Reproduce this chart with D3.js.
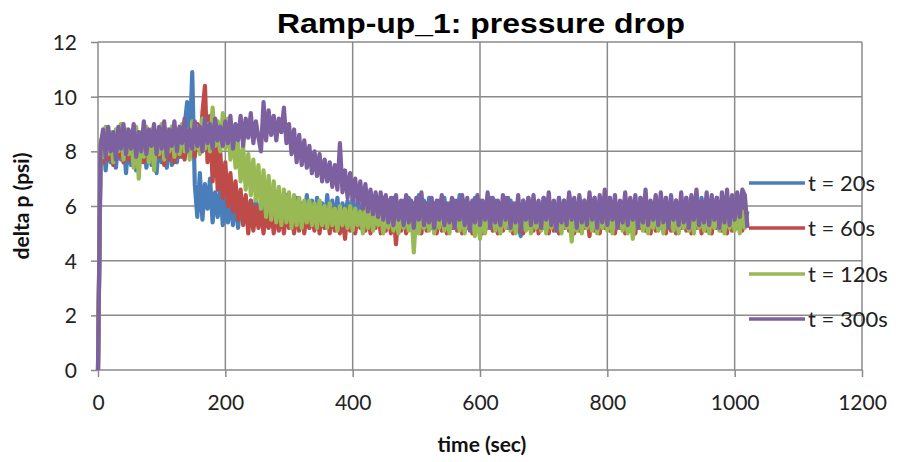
<!DOCTYPE html>
<html>
<head>
<meta charset="utf-8">
<script src="https://cdn.jsdelivr.net/npm/d3@7"></script>
<style>
  body { margin: 0; background: #fff; }
  .tick text { font-family: Lato, "Open Sans", sans-serif; font-size: 21px; fill: #222; }
  .axis-title { font-family: Lato, "Open Sans", sans-serif; font-weight: bold; font-size: 21px; fill: #111; }
  .chart-title { font-family: "Liberation Sans", Arial, sans-serif; font-weight: bold; font-size: 28px; fill: #000; }
  .legend text { font-family: Lato, "Open Sans", sans-serif; font-size: 22px; fill: #222; }
</style>
</head>
<body>
<div id="chart"></div>
<script>
(function () {

  // Sampling of the series (seconds between readings)
  const timeStep = 4

  const seriesNames = ["t = 20s", "t = 60s", "t = 120s", "t = 300s"]
  const seriesColors = ["#4a7ebb", "#be4b48", "#98b954", "#7d60a0"]

  const xTicks = [0, 200, 400, 600, 800, 1000, 1200]
  const yTicks = [0, 2, 4, 6, 8, 10, 12]

  // Readings, one every 4 s from 0 to 1020 s (256 values each), 40 s per row
  const dp20 = [
    0, 7.5, 8.6, 7.3, 8.4, 7.6, 8.5, 7.4, 8.3, 7.7,
    8.6, 7.2, 8.4, 7.5, 8.5, 7.3, 8.2, 7.6, 8.6, 7.4,
    8.3, 7.5, 8.5, 7.2, 8.4, 7.6, 8.3, 7.4, 8.6, 7.5,
    8.4, 7.6, 8.7, 7.8, 8.9, 9.8, 8.2, 10.9, 6.8, 5.6,
    7.2, 5.5, 6.8, 5.9, 7.0, 5.4, 6.5, 5.6, 6.7, 5.3,
    6.3, 5.4, 6.2, 5.3, 6.4, 5.2, 6.1, 5.5, 6.3, 5.2,
    6.2, 5.3, 6.3, 5.4, 6.1, 5.2, 6.4, 5.3, 6.2, 5.5,
    6.3, 5.2, 6.1, 5.4, 6.4, 5.3, 6.2, 5.2, 6.3, 5.5,
    6.1, 5.3, 6.4, 5.2, 6.2, 5.4, 6.3, 5.3, 6.1, 5.2,
    6.4, 5.4, 6.2, 5.3, 6.3, 5.2, 6.1, 5.5, 6.2, 5.3,
    6.3, 5.2, 6.2, 5.4, 6.1, 5.3, 6.4, 5.2, 6.2, 5.4,
    6.1, 5.3, 6.3, 5.2, 6.2, 5.5, 6.3, 5.3, 6.1, 5.2,
    6.2, 5.4, 6.3, 5.3, 6.1, 5.2, 6.4, 5.4, 6.2, 5.3,
    6.3, 5.2, 6.1, 5.4, 6.2, 5.3, 6.3, 5.2, 6.1, 5.4,
    6.2, 5.3, 6.4, 5.2, 6.2, 5.4, 6.1, 5.3, 6.3, 5.2,
    6.2, 5.4, 6.1, 5.3, 6.3, 5.2, 6.2, 5.5, 6.1, 5.3,
    6.3, 5.2, 6.2, 5.4, 6.1, 5.3, 4.9, 6.2, 5.4, 6.3,
    5.3, 6.2, 5.2, 6.1, 5.4, 6.3, 5.3, 6.2, 5.2, 6.1,
    5.4, 6.3, 5.2, 6.2, 5.3, 6.4, 5.4, 6.1, 5.2, 6.3,
    5.3, 6.2, 5.4, 6.1, 5.2, 6.3, 5.3, 6.2, 5.4, 6.1,
    5.2, 6.3, 5.3, 6.2, 5.4, 6.1, 5.2, 6.3, 5.3, 6.2,
    5.4, 6.1, 5.2, 6.3, 5.3, 6.2, 5.4, 6.1, 5.2, 6.3,
    5.3, 6.2, 5.4, 6.3, 5.2, 6.1, 5.3, 6.2, 5.4, 6.1,
    5.2, 6.3, 5.3, 6.2, 5.4, 6.1, 5.2, 6.3, 5.3, 6.2,
    5.4, 6.1, 5.2, 6.3, 5.3, 6.2, 5.4, 6.1, 5.2, 6.3,
    5.3, 6.2, 5.4, 6.1, 5.3, 5.8
  ]

  const dp60 = [
    0, 8.0, 7.6, 8.5, 7.7, 8.4, 7.5, 8.6, 7.8, 8.3,
    7.6, 8.5, 7.7, 8.4, 7.5, 8.6, 7.8, 8.3, 7.6, 8.5,
    7.7, 8.4, 7.6, 8.6, 7.8, 8.3, 7.5, 8.5, 7.7, 8.4,
    7.6, 8.6, 7.8, 8.5, 7.7, 8.7, 7.9, 8.8, 7.8, 9.0,
    8.1, 9.4, 10.4, 7.6, 9.3, 6.9, 8.6, 6.6, 8.0, 6.3,
    7.6, 6.0, 7.2, 5.8, 6.9, 5.5, 6.6, 5.3, 6.4, 5.0,
    6.2, 5.1, 6.0, 5.2, 5.9, 5.0, 5.8, 5.2, 5.9, 5.0,
    5.9, 5.1, 5.8, 5.0, 5.9, 5.2, 5.7, 5.0, 5.8, 5.1,
    5.9, 5.0, 5.8, 5.2, 5.7, 5.1, 5.9, 5.0, 5.8, 5.2,
    5.7, 5.0, 5.9, 5.1, 5.8, 5.0, 5.7, 4.8, 5.9, 5.1,
    5.8, 5.0, 5.7, 5.2, 5.9, 5.1, 5.8, 5.0, 5.7, 5.2,
    5.9, 5.0, 5.8, 5.1, 5.7, 5.0, 5.9, 4.6, 5.8, 5.1,
    5.7, 5.0, 5.9, 5.2, 5.8, 5.1, 5.7, 5.0, 5.9, 5.1,
    5.8, 5.2, 5.7, 5.0, 5.9, 5.1, 5.8, 5.0, 5.7, 5.2,
    5.9, 5.1, 5.8, 5.0, 5.7, 5.2, 5.9, 5.0, 5.8, 5.1,
    5.7, 5.0, 5.9, 5.2, 5.8, 5.1, 5.7, 5.0, 5.9, 5.1,
    5.8, 5.2, 5.7, 5.0, 5.9, 5.1, 5.8, 5.0, 5.7, 5.2,
    5.9, 5.1, 5.8, 5.0, 5.7, 5.2, 5.9, 5.0, 5.8, 5.1,
    5.7, 5.0, 5.9, 5.2, 5.8, 5.1, 5.7, 5.0, 5.9, 5.1,
    5.8, 5.2, 5.7, 4.9, 5.9, 5.1, 5.8, 5.0, 5.7, 5.2,
    5.9, 5.1, 5.8, 5.0, 5.7, 5.2, 5.9, 5.0, 5.8, 5.1,
    5.7, 5.0, 5.9, 5.2, 5.8, 5.1, 5.7, 5.0, 5.9, 5.1,
    5.8, 5.2, 5.7, 5.0, 5.9, 5.1, 5.8, 5.0, 5.7, 5.2,
    5.9, 5.1, 5.8, 5.0, 5.7, 5.2, 5.9, 5.0, 5.8, 5.1,
    5.7, 5.0, 5.9, 5.2, 5.8, 5.1, 5.7, 5.0, 5.9, 5.1,
    5.8, 5.2, 5.7, 5.1, 5.9, 5.3
  ]

  const dp120 = [
    0, 8.4, 7.8, 8.9, 7.9, 8.7, 7.6, 8.8, 8.0, 9.0,
    7.7, 8.8, 7.9, 8.6, 7.4, 8.9, 7.0, 8.7, 7.8, 8.9,
    7.6, 8.8, 7.3, 8.7, 7.9, 9.0, 7.7, 8.8, 8.0, 8.9,
    7.8, 8.7, 7.9, 9.0, 8.0, 8.8, 7.7, 9.1, 8.1, 8.9,
    7.9, 9.2, 8.1, 9.0, 8.0, 9.6, 8.2, 9.1, 8.0, 9.4,
    8.1, 9.2, 7.7, 8.8, 7.4, 8.3, 6.9, 8.2, 6.6, 7.9,
    6.4, 7.7, 6.2, 7.5, 5.9, 7.3, 5.6, 7.1, 5.5, 6.9,
    5.4, 6.7, 5.3, 6.6, 5.4, 6.5, 5.2, 6.4, 5.3, 6.3,
    5.2, 6.2, 5.4, 6.2, 5.3, 6.1, 5.2, 6.2, 5.3, 6.0,
    5.2, 6.1, 5.3, 5.9, 5.1, 6.0, 5.3, 5.9, 5.2, 6.0,
    5.1, 5.9, 5.3, 5.8, 5.0, 6.0, 5.2, 5.9, 5.1, 5.8,
    5.3, 5.9, 5.0, 5.8, 5.2, 6.0, 5.1, 5.8, 5.0, 5.9,
    5.2, 5.8, 5.1, 5.9, 4.3, 5.8, 5.0, 5.9, 5.2, 5.8,
    5.1, 5.9, 5.0, 5.8, 5.2, 6.0, 5.1, 5.8, 5.0, 5.9,
    5.2, 5.8, 5.1, 5.9, 5.0, 5.8, 5.2, 6.0, 4.9, 5.8,
    4.8, 5.9, 5.0, 5.8, 5.2, 5.9, 5.1, 5.8, 5.0, 6.0,
    5.2, 5.8, 5.1, 5.9, 5.0, 5.8, 5.2, 5.9, 5.1, 5.8,
    5.0, 5.9, 5.2, 5.8, 5.1, 6.0, 5.0, 5.8, 5.2, 5.9,
    5.1, 5.8, 5.0, 5.9, 5.2, 5.8, 4.7, 5.9, 5.1, 5.8,
    5.0, 5.9, 5.2, 5.8, 5.1, 6.0, 5.0, 5.8, 5.2, 5.9,
    5.1, 5.8, 5.0, 5.9, 5.2, 5.8, 5.1, 5.9, 5.0, 5.8,
    4.8, 5.9, 5.2, 5.8, 5.1, 6.0, 5.0, 5.8, 5.2, 5.9,
    5.1, 5.8, 5.0, 5.9, 5.2, 5.8, 5.1, 5.9, 5.0, 5.8,
    5.2, 5.9, 5.1, 5.8, 5.0, 6.0, 5.2, 5.8, 5.1, 5.9,
    5.0, 5.8, 5.2, 5.9, 5.1, 5.8, 5.0, 5.9, 5.2, 5.8,
    5.1, 5.9, 5.0, 5.8, 5.2, 5.5
  ]

  const dp300 = [
    0, 8.2, 8.8, 7.8, 8.9, 8.0, 8.7, 7.7, 8.9, 8.1,
    9.0, 7.9, 8.8, 8.1, 9.0, 7.8, 8.7, 8.0, 9.1, 7.9,
    8.8, 8.2, 9.0, 7.9, 8.9, 8.1, 9.1, 7.8, 8.8, 8.2,
    9.1, 8.0, 8.9, 8.3, 9.2, 8.0, 8.8, 8.1, 9.1, 8.2,
    8.9, 8.0, 9.2, 8.3, 9.0, 8.1, 9.2, 8.4, 8.9, 8.2,
    9.1, 8.3, 9.3, 8.1, 9.0, 8.4, 9.3, 8.2, 9.2, 8.5,
    9.4, 8.3, 9.1, 8.5, 8.0, 9.8, 8.4, 9.5, 8.6, 9.3,
    8.4, 9.2, 8.7, 9.6, 8.3, 9.0, 7.9, 8.8, 7.6, 8.6,
    7.5, 8.4, 7.4, 8.2, 7.2, 8.0, 7.1, 7.9, 6.9, 7.7,
    6.9, 7.6, 6.7, 7.5, 6.6, 8.3, 6.5, 7.3, 6.3, 7.2,
    6.2, 7.0, 6.1, 6.9, 5.9, 6.8, 5.8, 6.6, 5.7, 6.5,
    5.6, 6.5, 5.5, 6.4, 5.4, 6.3, 5.3, 6.4, 5.5, 6.2,
    5.3, 6.4, 5.4, 6.2, 5.2, 6.3, 5.5, 6.5, 5.3, 6.1,
    5.4, 6.3, 5.2, 6.2, 5.5, 6.4, 5.3, 6.1, 5.4, 6.3,
    5.2, 6.2, 5.5, 6.4, 5.3, 6.3, 5.1, 6.2, 5.4, 6.4,
    5.3, 6.2, 5.5, 6.5, 5.2, 6.3, 5.4, 6.2, 5.3, 6.4,
    5.5, 6.3, 5.2, 6.1, 5.4, 6.4, 5.1, 6.2, 5.5, 6.3,
    5.3, 6.4, 5.4, 6.2, 5.2, 6.3, 5.5, 6.5, 5.3, 6.2,
    5.1, 6.3, 5.4, 6.2, 5.3, 6.5, 5.5, 6.3, 5.2, 6.4,
    5.4, 6.2, 5.3, 6.5, 5.5, 6.3, 5.2, 6.4, 5.4, 6.6,
    5.3, 6.3, 5.5, 6.4, 5.2, 6.2, 5.4, 6.5, 5.3, 6.3,
    5.5, 6.4, 5.2, 6.3, 5.4, 6.6, 5.3, 6.2, 5.5, 6.4,
    5.3, 6.5, 5.4, 6.3, 5.2, 6.4, 5.5, 6.2, 5.3, 6.5,
    5.4, 6.3, 5.2, 6.4, 5.5, 6.6, 5.3, 6.2, 5.4, 6.5,
    5.3, 6.4, 5.5, 6.3, 5.2, 6.5, 5.4, 6.6, 5.3, 6.4,
    5.5, 6.5, 5.6, 6.6, 6.4, 5.2
  ]

  const seriesValues = [dp20, dp60, dp120, dp300]

  // Margin convention
  const margin = { top: 42, right: 36, bottom: 92, left: 98 }
  const width = 898 - margin.left - margin.right
  const height = 462 - margin.top - margin.bottom

  const xPositionScale = d3.scaleLinear().domain([0, 1200]).range([0, width])
  const yPositionScale = d3.scaleLinear().domain([0, 12]).range([height, 0])

  const svg = d3.select("#chart").append("svg")
    .attr("width", width + margin.left + margin.right)
    .attr("height", height + margin.top + margin.bottom)

  const g = svg.append("g")
    .attr("transform", "translate(" + margin.left + "," + margin.top + ")")

  // Grid lines
  g.selectAll(".hgrid")
    .data(yTicks)
    .join("line")
    .attr("x1", 0)
    .attr("x2", width)
    .attr("y1", d => yPositionScale(d))
    .attr("y2", d => yPositionScale(d))
    .attr("stroke", "#8a8a8a")
    .attr("stroke-width", 1.5)

  g.selectAll(".vgrid")
    .data(xTicks)
    .join("line")
    .attr("x1", d => xPositionScale(d))
    .attr("x2", d => xPositionScale(d))
    .attr("y1", 0)
    .attr("y2", height)
    .attr("stroke", "#8a8a8a")
    .attr("stroke-width", 1.5)

  // Axes
  const xAxis = d3.axisBottom(xPositionScale).tickValues(xTicks).tickFormat(d3.format("d")).tickSize(7).tickPadding(18)
  const yAxis = d3.axisLeft(yPositionScale).tickValues(yTicks).tickSize(7).tickPadding(14)

  g.append("g")
    .attr("transform", "translate(0," + height + ")")
    .call(xAxis)
    .call(a => a.select(".domain").remove())
    .call(a => a.selectAll(".tick line").attr("stroke", "#8a8a8a").attr("stroke-width", 1.5))

  g.append("g")
    .call(yAxis)
    .call(a => a.select(".domain").remove())
    .call(a => a.selectAll(".tick line").attr("stroke", "#8a8a8a").attr("stroke-width", 1.5))
    .call(a => a.selectAll(".tick text").attr("dy", "0.36em"))

  // Lines
  const line = d3.line()
    .x((d, i) => xPositionScale(i * timeStep))
    .y(d => yPositionScale(d))

  g.selectAll(".series")
    .data(seriesValues)
    .join("path")
    .attr("class", "series")
    .attr("fill", "none")
    .attr("stroke", (d, i) => seriesColors[i])
    .attr("stroke-width", 4.2)
    .attr("stroke-linejoin", "round")
    .attr("d", d => line(d))

  // Legend
  const legend = svg.append("g").attr("class", "legend")
  const legendY = [183, 228, 274, 319]

  legend.selectAll("line")
    .data(seriesNames)
    .join("line")
    .attr("x1", 749)
    .attr("x2", 805)
    .attr("y1", (d, i) => legendY[i])
    .attr("y2", (d, i) => legendY[i])
    .attr("stroke", (d, i) => seriesColors[i])
    .attr("stroke-width", 3.5)

  legend.selectAll("text")
    .data(seriesNames)
    .join("text")
    .attr("x", 808)
    .attr("y", (d, i) => legendY[i])
    .attr("dy", "0.35em")
    .text(d => d)

  // Titles
  svg.append("text")
    .attr("class", "chart-title")
    .attr("x", 481)
    .attr("y", 33)
    .attr("text-anchor", "middle")
    .attr("textLength", 408)
    .attr("lengthAdjust", "spacingAndGlyphs")
    .text("Ramp-up_1: pressure drop")

  svg.append("text")
    .attr("class", "axis-title")
    .attr("x", 482)
    .attr("y", 452)
    .attr("text-anchor", "middle")
    .text("time (sec)")

  svg.append("text")
    .attr("class", "axis-title")
    .attr("transform", "translate(29," + (margin.top + height / 2) + ") rotate(-90)")
    .attr("text-anchor", "middle")
    .text("delta p (psi)")

})();
</script>
</body>
</html>
